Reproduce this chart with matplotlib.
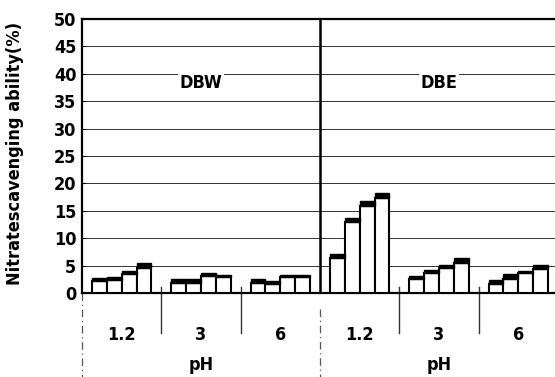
import matplotlib
matplotlib.use('Agg')
import matplotlib.pyplot as plt
import matplotlib.transforms as mtransforms
import numpy as np

plt.rcParams['font.family'] = ['DejaVu Sans']
plt.rcParams['font.weight'] = 'bold'
plt.rcParams['font.stretch'] = 'condensed'

panels = ['DBW', 'DBE']
ph_labels = ['1.2', '3', '6', '1.2', '3', '6']
y_ticks = [0, 5, 10, 15, 20, 25, 30, 35, 40, 45, 50]

# mean (white part) and sd (black band on top), 4 bars per pH group
mean = [
    [2.1, 2.3, 3.5, 4.6],   # DBW pH 1.2
    [1.9, 1.9, 3.1, 2.9],   # DBW pH 3
    [1.9, 1.7, 2.9, 2.9],   # DBW pH 6
    [6.3, 13.0, 15.9, 17.4],  # DBE pH 1.2
    [2.6, 3.6, 4.5, 5.4],   # DBE pH 3
    [1.6, 2.6, 3.6, 4.3],   # DBE pH 6
]
sd = [
    [0.6, 0.6, 0.6, 0.9],
    [0.6, 0.6, 0.6, 0.4],
    [0.6, 0.4, 0.4, 0.4],
    [0.9, 0.6, 0.9, 0.9],
    [0.5, 0.6, 0.7, 0.9],
    [0.8, 0.9, 0.5, 0.9],
]

fig = plt.figure(figsize=(5.55, 3.77), dpi=100)
ax = fig.add_axes([0.1477, 0.2228, 0.8577, 0.7268])

bw = 0.1875
for g in range(6):
    xs = g + 0.5 + (np.arange(4) - 1.5) * bw
    ax.bar(xs, mean[g], width=bw, color='white', edgecolor='black',
           linewidth=1.5, zorder=3)
    ax.bar(xs, sd[g], bottom=mean[g], width=bw, color='black',
           edgecolor='black', linewidth=1.0, zorder=3)

ax.set_xlim(0, 6)
ax.set_ylim(0, 50)
ax.set_yticks(y_ticks)
ax.set_yticklabels([str(t) for t in y_ticks], fontsize=13, fontweight='bold')
ax.tick_params(axis='y', length=3, direction='in', pad=4)
ax.set_xticks([])
for t in y_ticks[1:-1]:
    ax.axhline(t, color='#333333', linewidth=0.7, zorder=1)

for s in ['left', 'top', 'bottom']:
    ax.spines[s].set_linewidth(1.6)
ax.spines['right'].set_visible(False)
ax.axvline(3, color='black', linewidth=1.8, zorder=4)

trans = mtransforms.blended_transform_factory(ax.transData, ax.transAxes)
for i, name in enumerate(panels):
    ax.text(1.5 + 3 * i, 38.3, name, ha='center', va='center',
            fontsize=13, fontweight='bold', zorder=5,
            bbox=dict(facecolor='white', edgecolor='none', pad=1))
    ax.text(1.5 + 3 * i, -0.263, 'pH', transform=trans, ha='center',
            va='center', fontsize=13, fontweight='bold')
for g, lab in enumerate(ph_labels):
    ax.text(g + 0.5, -0.153, lab, transform=trans, ha='center',
            va='center', fontsize=13, fontweight='bold')

# separators below the axis
for g in [1, 2, 4, 5]:
    ax.plot([g, g], [0.022, -0.146], transform=trans, color='#333333',
            linewidth=1.0, clip_on=False)
for g in [0, 3, 6]:
    ax.plot([g, g], [-0.06 if g == 3 else 0, -0.31], transform=trans,
            color='#555555', linewidth=0.9, linestyle=(0, (6, 3, 1, 3)),
            clip_on=False)

ax.set_ylabel('Nitratescavenging ability(%)', fontsize=13, fontweight='bold')
ax.yaxis.set_label_coords(-0.122, 0.51)

fig.savefig('out.png', dpi=100)
